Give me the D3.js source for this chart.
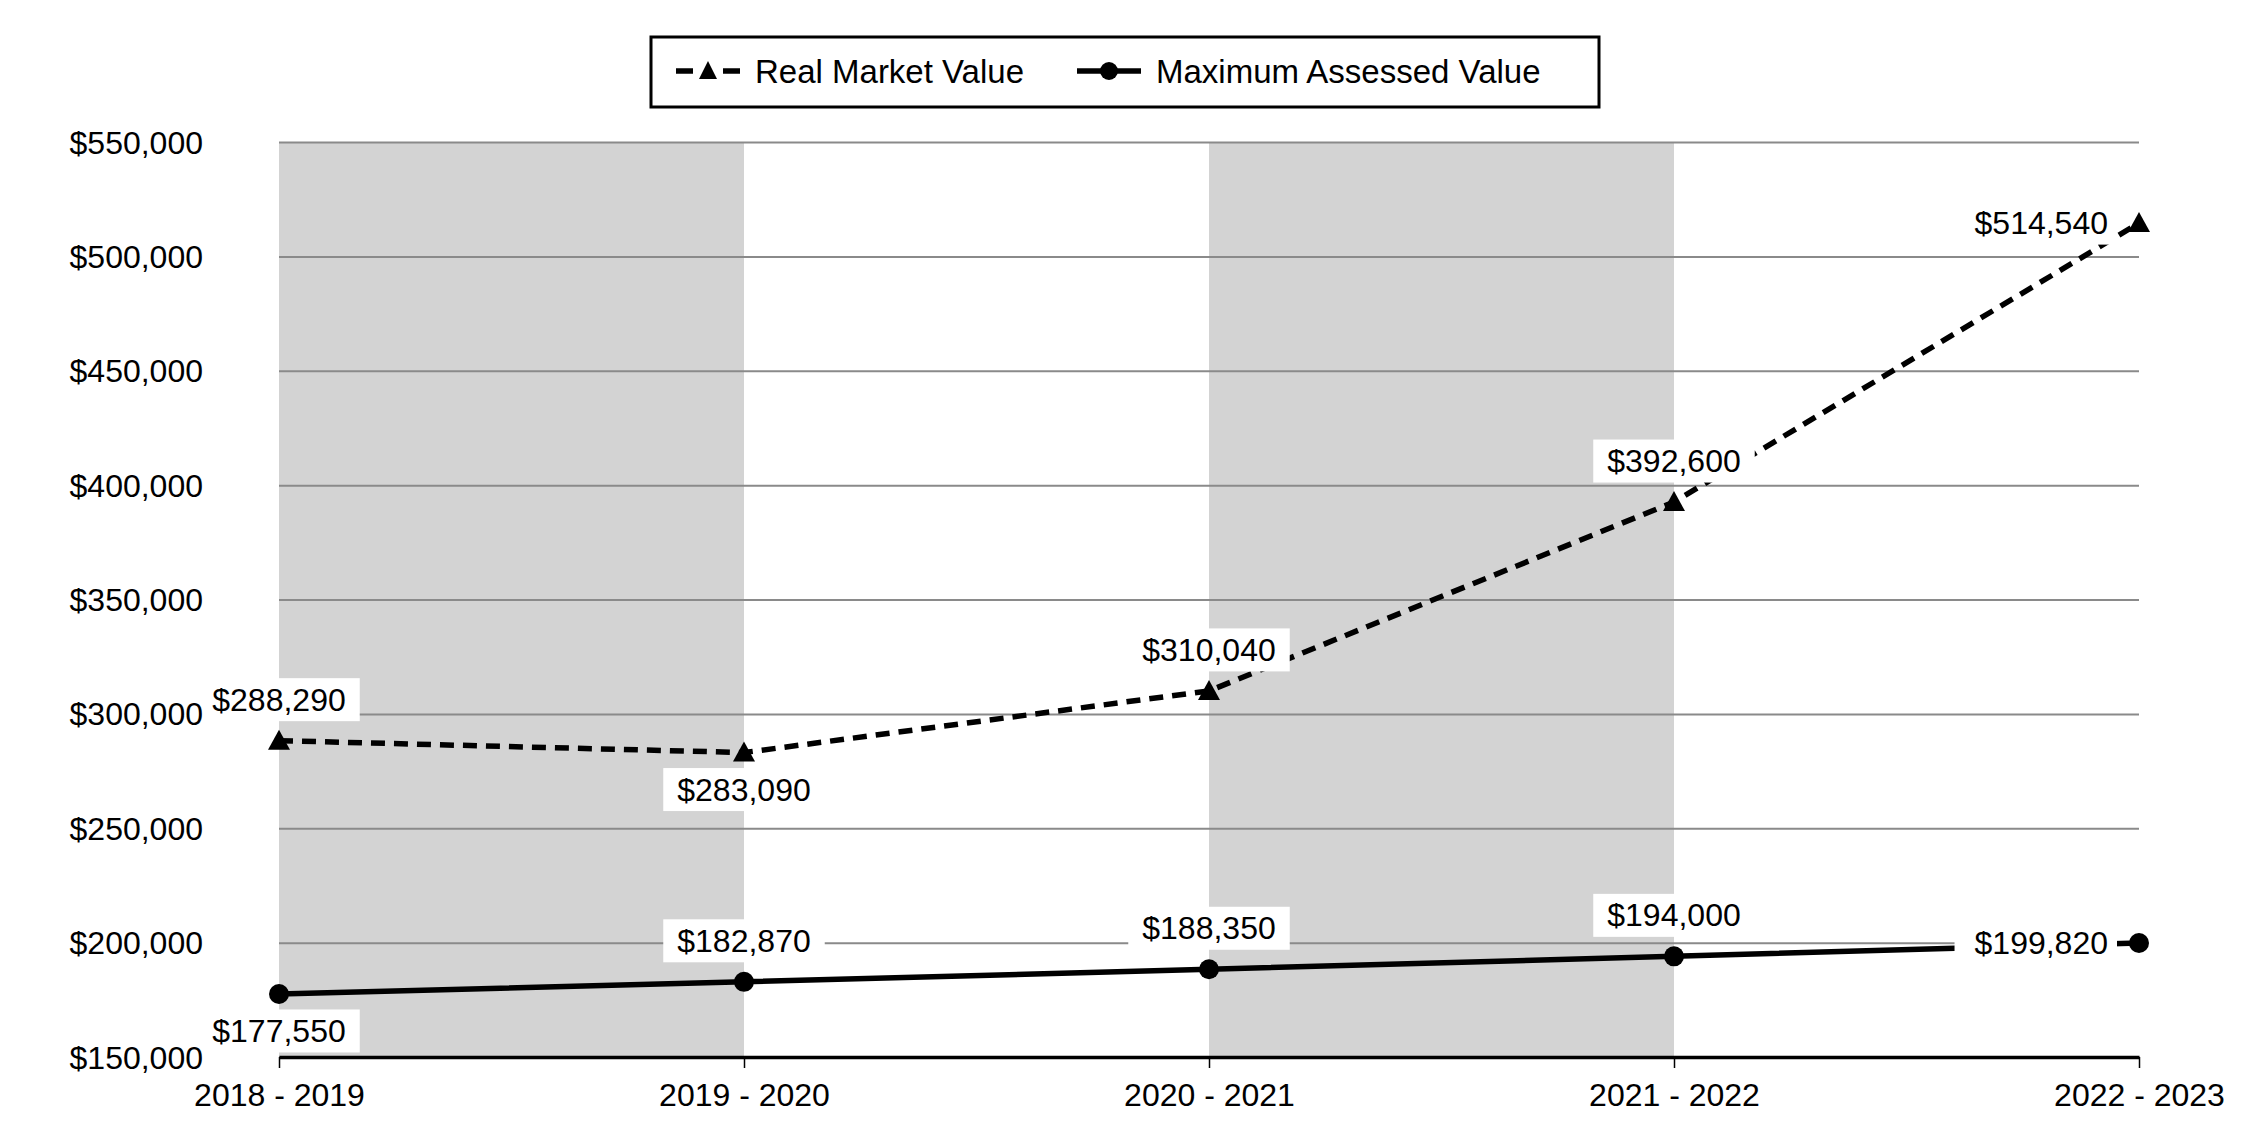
<!DOCTYPE html>
<meta charset="utf-8">
<script src="https://d3js.org/d3.v7.min.js"></script>
<style>
    body { margin: 0; background: #fff; }
    text { font-family: "Liberation Sans", Arial, sans-serif; fill: #000; }
</style>
<div id="my_dataviz"></div>

<script>
    // data
    const years = ["2018 - 2019", "2019 - 2020", "2020 - 2021", "2021 - 2022", "2022 - 2023"];
    const realMarket = [288290, 283090, 310040, 392600, 514540];
    const maxAssessed = [177550, 182870, 188350, 194000, 199820];
    const yTicks = [150000, 200000, 250000, 300000, 350000, 400000, 450000, 500000, 550000];
    const seriesNames = ["Real Market Value", "Maximum Assessed Value"];
    // where each value label sits: above, below or left of its point
    const realPos = ["up", "down", "up", "up", "left"];
    const maxPos = ["down", "up", "up", "up", "left"];

    const W = 2250, H = 1140;
    const plot = { left: 279, right: 2139, top: 142, bottom: 1057 };

    const svg = d3.select("#my_dataviz")
        .append("svg")
        .attr("width", W)
        .attr("height", H);

    const x = d3.scalePoint()
        .domain(years)
        .range([plot.left, plot.right]);

    const y = d3.scaleLinear()
        .domain([150000, 550000])
        .range([plot.bottom, plot.top]);

    const fmt = d3.format("$,");

    // shaded bands between every other pair of years
    svg.append("g")
        .selectAll("rect")
        .data(years.filter((d, i) => i % 2 === 0 && i < years.length - 1))
        .join("rect")
        .attr("x", d => x(d))
        .attr("width", d => x(years[years.indexOf(d) + 1]) - x(d))
        .attr("y", plot.top)
        .attr("height", plot.bottom - plot.top)
        .attr("fill", "#d3d3d3");

    // gridlines
    const grid = svg.append("g")
        .attr("transform", `translate(${plot.left},0)`)
        .call(d3.axisLeft(y)
            .tickValues(yTicks)
            .tickFormat("")
            .tickSize(-(plot.right - plot.left)));
    grid.select(".domain").remove();
    grid.selectAll(".tick line")
        .attr("stroke", "#8a8a8a")
        .attr("stroke-width", 2);

    // X axis
    const xAxis = svg.append("g")
        .attr("transform", `translate(0,${plot.bottom})`)
        .call(d3.axisBottom(x)
            .tickSize(11)
            .tickSizeOuter(0)
            .tickPadding(15));
    xAxis.select(".domain")
        .attr("stroke", "#000")
        .attr("stroke-width", 3.5);
    xAxis.selectAll(".tick line")
        .attr("stroke", "#000")
        .attr("stroke-width", 1.5);
    xAxis.selectAll(".tick text")
        .attr("font-size", 32);

    const line = d3.line()
        .x((d, i) => x(years[i]))
        .y(d => y(d));

    // lines
    svg.append("path")
        .datum(maxAssessed)
        .attr("fill", "none")
        .attr("stroke", "#000")
        .attr("stroke-width", 5.5)
        .attr("d", line);

    svg.append("path")
        .datum(realMarket)
        .attr("fill", "none")
        .attr("stroke", "#000")
        .attr("stroke-width", 5.5)
        .attr("stroke-dasharray", "14,9")
        .attr("d", line);

    const tri = "M0,-11L11,9L-11,9Z";

    // markers
    svg.append("g")
        .selectAll("path")
        .data(realMarket)
        .join("path")
        .attr("d", tri)
        .attr("transform", (d, i) => `translate(${x(years[i])},${y(d)})`)
        .attr("fill", "#000");

    svg.append("g")
        .selectAll("circle")
        .data(maxAssessed)
        .join("circle")
        .attr("cx", (d, i) => x(years[i]))
        .attr("cy", d => y(d))
        .attr("r", 10)
        .attr("fill", "#000");

    // value labels with white boxes
    function addLabels(values, pos) {
        const g = svg.append("g")
            .selectAll("g")
            .data(values)
            .join("g");

        g.each(function(d, i) {
            const el = d3.select(this);
            const px = x(years[i]), py = y(d);
            let tx = px, ty = py, anchor = "middle";
            if (pos[i] === "up") ty = py - 41;
            else if (pos[i] === "down") ty = py + 37;
            else { tx = px - 31; anchor = "end"; }

            const rect = el.append("rect").attr("fill", "#fff");
            const t = el.append("text")
                .attr("x", tx)
                .attr("y", ty)
                .attr("text-anchor", anchor)
                .attr("dominant-baseline", "central")
                .attr("font-size", 32)
                .text(fmt(d));
            const b = t.node().getBBox();
            const padL = pos[i] === "left" ? 20 : 14;
            const padR = pos[i] === "left" ? 9 : 14;
            rect.attr("x", b.x - padL)
                .attr("y", ty - 21.5)
                .attr("width", b.width + padL + padR)
                .attr("height", 43);
        });
    }
    addLabels(realMarket, realPos);
    addLabels(maxAssessed, maxPos);

    // Y axis labels, drawn last so the value-label boxes never cover them
    const yAxis = svg.append("g")
        .attr("transform", `translate(${plot.left},0)`)
        .call(d3.axisLeft(y)
            .tickValues(yTicks)
            .tickFormat(fmt)
            .tickSize(0)
            .tickPadding(76));
    yAxis.select(".domain").remove();
    yAxis.selectAll(".tick line").remove();
    yAxis.selectAll(".tick text")
        .attr("font-size", 32)
        .attr("dy", null)
        .attr("dominant-baseline", "central");

    // legend
    const legend = svg.append("g");
    legend.append("rect")
        .attr("x", 651)
        .attr("y", 37)
        .attr("width", 948)
        .attr("height", 70)
        .attr("fill", "#fff")
        .attr("stroke", "#000")
        .attr("stroke-width", 3);

    const ly = 71;
    legend.append("line")
        .attr("x1", 676).attr("x2", 740)
        .attr("y1", ly).attr("y2", ly)
        .attr("stroke", "#000")
        .attr("stroke-width", 5.5)
        .attr("stroke-dasharray", "17,30");
    legend.append("path")
        .attr("d", "M0,-10L9,8L-9,8Z")
        .attr("transform", `translate(708,${ly})`)
        .attr("fill", "#000");
    legend.append("text")
        .attr("x", 755)
        .attr("y", ly)
        .attr("dominant-baseline", "central")
        .attr("font-size", 33)
        .text(seriesNames[0]);

    legend.append("line")
        .attr("x1", 1077).attr("x2", 1141)
        .attr("y1", ly).attr("y2", ly)
        .attr("stroke", "#000")
        .attr("stroke-width", 5.5);
    legend.append("circle")
        .attr("cx", 1109)
        .attr("cy", ly)
        .attr("r", 9)
        .attr("fill", "#000");
    legend.append("text")
        .attr("x", 1156)
        .attr("y", ly)
        .attr("dominant-baseline", "central")
        .attr("font-size", 33)
        .text(seriesNames[1]);
</script>
